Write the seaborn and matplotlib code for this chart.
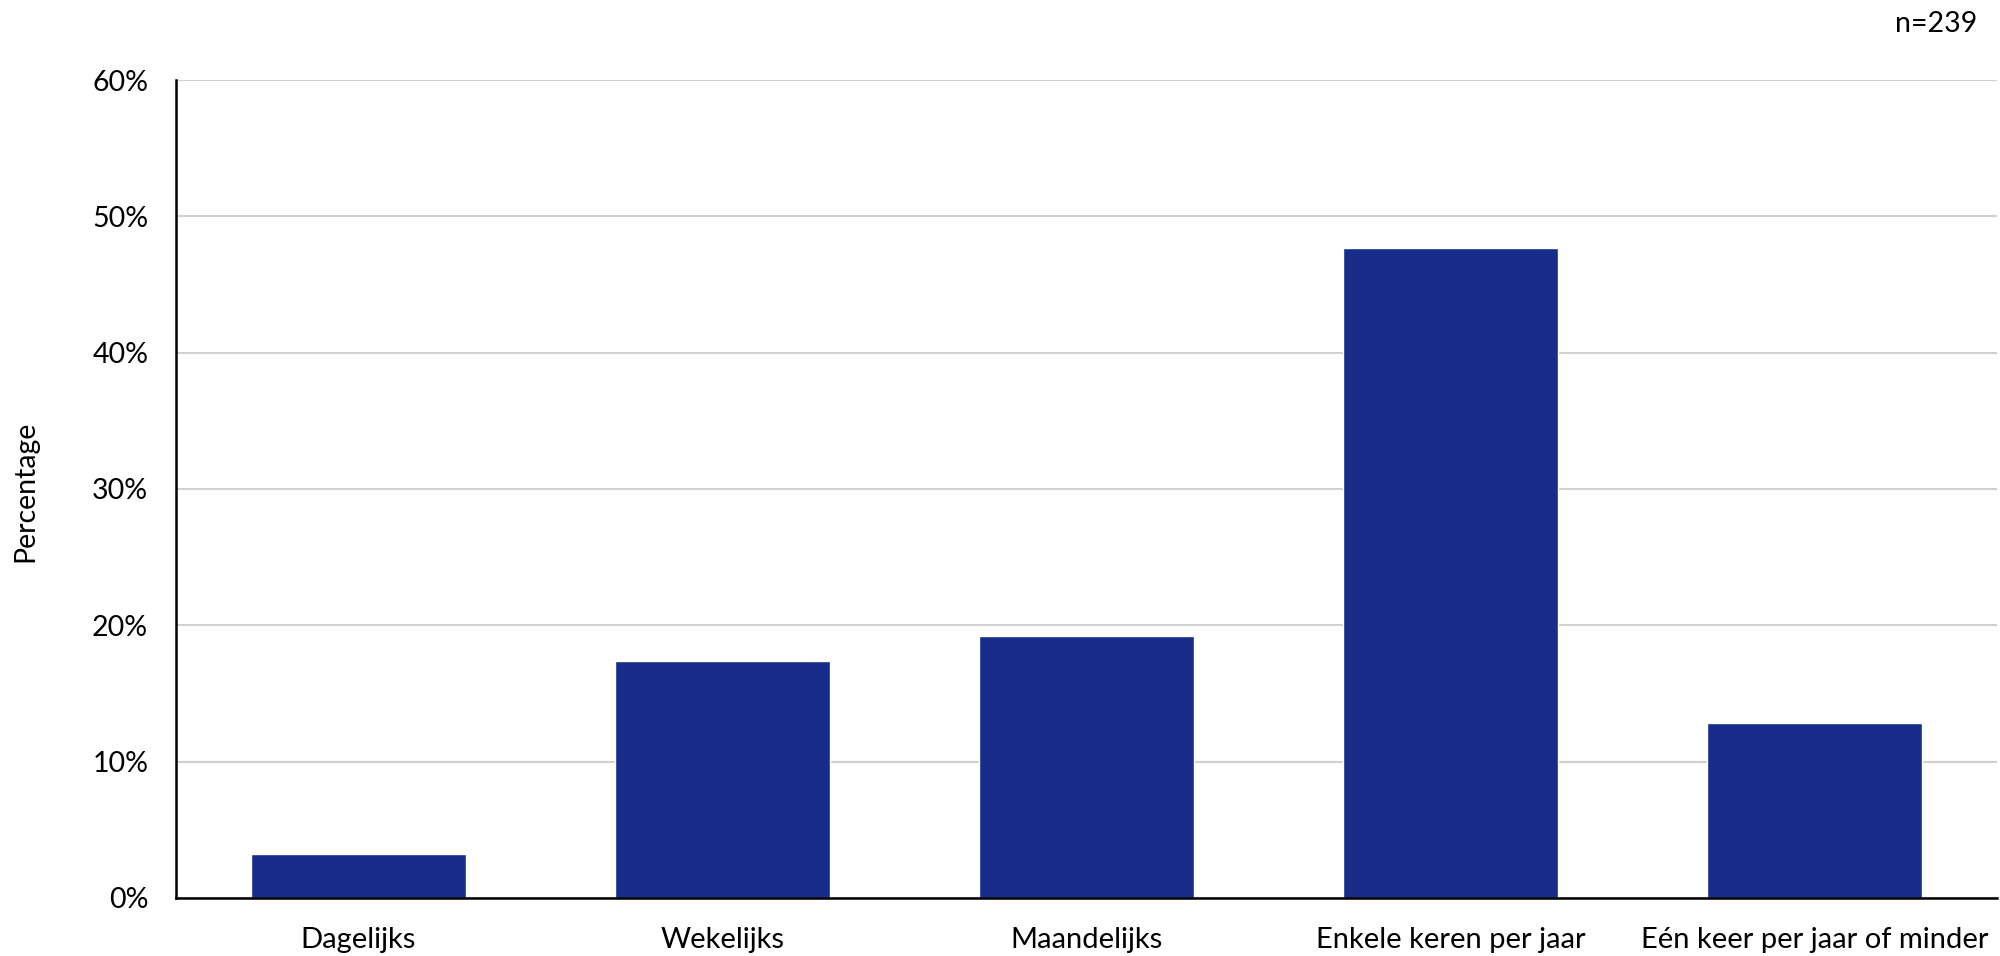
import matplotlib
matplotlib.use("Agg")
import matplotlib.pyplot as plt
import seaborn as sns
import pandas as pd

# Frequency categories and the share of respondents in each (percent)
categories = [
    "Dagelijks",
    "Wekelijks",
    "Maandelijks",
    "Enkele keren per jaar",
    "Eén keer per jaar of minder",
]
percentages = [3.2, 17.4, 19.2, 47.7, 12.8]
ytick_values = [0, 10, 20, 30, 40, 50, 60]
ytick_labels = [f"{v}%" for v in ytick_values]
y_title = "Percentage"
sample_note = "n=239"

df = pd.DataFrame({"categorie": categories, "percentage": percentages})

sns.set_theme(style="white")
plt.rcParams["font.family"] = ["Lato", "DejaVu Sans"]

fig = plt.figure(figsize=(20, 9.56), dpi=100)
ax = fig.add_axes([0.088, 0.0607, 0.9105, 0.8556])

sns.barplot(
    data=df, x="categorie", y="percentage",
    color="#182C89", saturation=1, width=0.59, ax=ax,
)

ax.set_xlim(-0.5, len(categories) - 0.5)
ax.set_ylim(0, 60)
ax.set_yticks(ytick_values)
ax.set_yticklabels(ytick_labels)

ax.yaxis.grid(True, color="#D0D0D0", linewidth=1.5)
ax.xaxis.grid(False)
ax.set_axisbelow(True)

for side in ("top", "right"):
    ax.spines[side].set_visible(False)
for side in ("left", "bottom"):
    ax.spines[side].set_color("black")
    ax.spines[side].set_linewidth(1.8)
    ax.spines[side].set_zorder(5)

ax.tick_params(axis="y", length=0, pad=20, labelsize=20.5, colors="black")
ax.tick_params(axis="x", length=0, pad=21, labelsize=21, colors="black")

ax.set_xlabel("")
ax.set_ylabel("")
fig.text(25 / 2000, 1 - 491 / 956, y_title, rotation=90,
         ha="center", va="center", fontsize=20.5, color="black")
fig.text(1977 / 2000, 1 - 24 / 956, sample_note,
         ha="right", va="center", fontsize=20.5, color="black")

fig.savefig("out.png", dpi=100)
